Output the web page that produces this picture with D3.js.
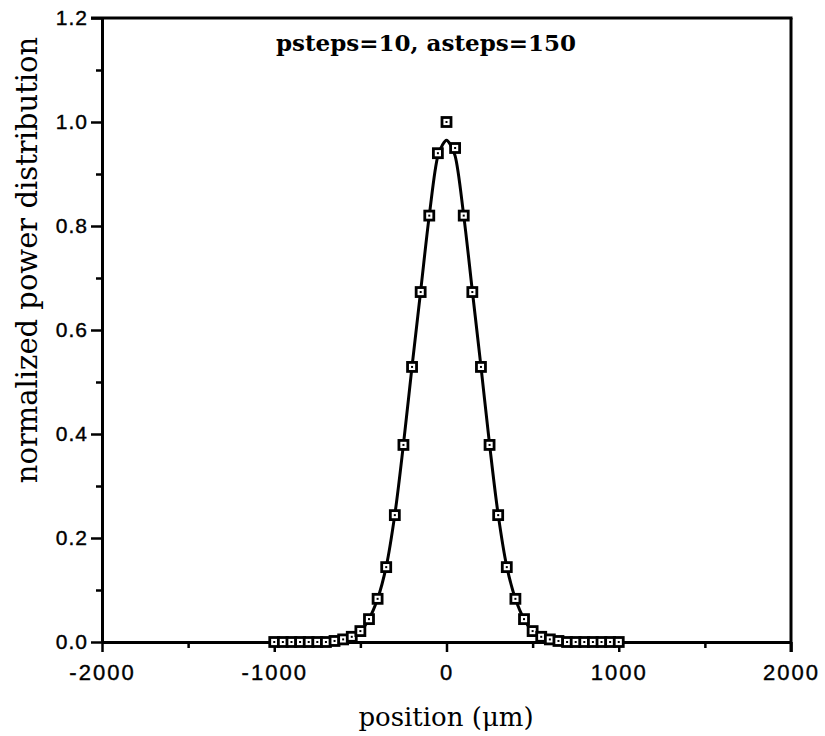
<!DOCTYPE html>
<html>
<head>
<meta charset="utf-8">
<script src="https://cdn.jsdelivr.net/npm/d3@7"></script>
<style>
  body { margin: 0; background: #fff; }
  svg { display: block; }
</style>
</head>
<body>
<div id="chart"></div>
<script>
// measured points (squares), every 50 um
var markerX = [-1000,-950,-900,-850,-800,-750,-700,-650,-600,-550,-500,-450,-400,-350,-300,-250,-200,-150,-100,-50,
               0,50,100,150,200,250,300,350,400,450,500,550,600,650,700,750,800,850,900,950,1000];
var markerY = [0,0,0,0,0,0,0,0.002,0.005,0.01,0.021,0.044,0.083,0.144,0.244,0.379,0.529,0.673,0.82,0.94,
               1.0,0.95,0.82,0.673,0.529,0.379,0.244,0.144,0.083,0.044,0.021,0.01,0.005,0.002,0,0,0,0,0,0,0];

// solid curve
var curveX = [-1000,-800,-700,-600,-550,-500,-450,-400,-350,-300,-250,-200,-150,-100,-50,-25,0,25,50,100,150,200,250,300,350,400,450,500,550,600,700,800,1000];
var curveY = [0,0,0,0.003,0.008,0.02,0.044,0.083,0.145,0.245,0.38,0.53,0.675,0.82,0.935,0.955,0.965,0.955,0.935,0.82,0.675,0.53,0.38,0.245,0.145,0.083,0.044,0.02,0.008,0.003,0,0,0];

var xMajor = [-2000,-1000,0,1000,2000];
var xMinor = [-1500,-500,500,1500];
var yMajor = [0,0.2,0.4,0.6,0.8,1.0,1.2];
var yMinor = [0.1,0.3,0.5,0.7,0.9,1.1];

var title = "psteps=10, asteps=150";
var xTitle = "position (\u03bcm)";
var yTitle = "normalized power distribution";

var width = 825, height = 736;
var plotL = 102, plotR = 791, plotT = 18, plotB = 642;

var svg = d3.select("#chart").append("svg")
    .attr("width", width)
    .attr("height", height);

var x = d3.scaleLinear().domain([-2000, 2000]).range([plotL, plotR]);
var y = d3.scaleLinear().domain([0, 1.2]).range([plotB, plotT]);

var tickFont = "'Liberation Sans', Arial, sans-serif";
var serif = "'DejaVu Serif', 'Century Schoolbook', serif";

// x axis
var xAxis = svg.append("g")
    .attr("transform", "translate(0," + plotB + ")")
    .call(d3.axisBottom(x).tickValues(xMajor).tickSize(10).tickSizeOuter(0));
xAxis.select(".domain").attr("stroke-width", 3);
xAxis.selectAll(".tick line").attr("stroke-width", 2.5);
xAxis.selectAll(".tick text")
    .attr("y", 22)
    .attr("dy", "0.71em")
    .style("font-family", tickFont)
    .style("font-size", "22px")
    .style("letter-spacing", "2px")
    .attr("fill", "#000")
    .attr("stroke", "#000")
    .attr("stroke-width", 0.4)
    .text(function(d) { return d3.format("d")(d).replace("\u2212", "-"); });

var xAxisMinor = svg.append("g")
    .attr("transform", "translate(0," + plotB + ")")
    .call(d3.axisBottom(x).tickValues(xMinor).tickSize(6).tickFormat(""));
xAxisMinor.select(".domain").remove();
xAxisMinor.selectAll(".tick line").attr("stroke-width", 2.5);

// y axis
var yAxis = svg.append("g")
    .attr("transform", "translate(" + plotL + ",0)")
    .call(d3.axisLeft(y).tickValues(yMajor).tickSize(11).tickSizeOuter(0).tickFormat(d3.format(".1f")));
yAxis.select(".domain").attr("stroke-width", 3);
yAxis.selectAll(".tick line").attr("stroke-width", 2.5);
yAxis.selectAll(".tick text")
    .attr("x", -14)
    .style("font-family", tickFont)
    .style("font-size", "21px")
    .style("letter-spacing", "1px")
    .attr("fill", "#000")
    .attr("stroke", "#000")
    .attr("stroke-width", 0.4);

var yAxisMinor = svg.append("g")
    .attr("transform", "translate(" + plotL + ",0)")
    .call(d3.axisLeft(y).tickValues(yMinor).tickSize(6).tickFormat(""));
yAxisMinor.select(".domain").remove();
yAxisMinor.selectAll(".tick line").attr("stroke-width", 2.5);

// frame top and right
svg.append("line")
    .attr("x1", x(-2000) - 11).attr("x2", x(2000) + 1.5)
    .attr("y1", y(1.2)).attr("y2", y(1.2))
    .attr("stroke", "#000").attr("stroke-width", 3);
svg.append("line")
    .attr("x1", x(2000)).attr("x2", x(2000))
    .attr("y1", y(1.2)).attr("y2", y(0) + 10)
    .attr("stroke", "#000").attr("stroke-width", 3);

// curve
var line = d3.line()
    .x(function(d) { return x(d[0]); })
    .y(function(d) { return y(d[1]); })
    .curve(d3.curveCatmullRom);

svg.append("path")
    .datum(d3.zip(curveX, curveY))
    .attr("d", line)
    .attr("fill", "none")
    .attr("stroke", "#000")
    .attr("stroke-width", 3);

// square markers
var pts = svg.selectAll(".pt")
    .data(d3.zip(markerX, markerY))
  .enter().append("g")
    .attr("class", "pt")
    .attr("transform", function(d) { return "translate(" + x(d[0]) + "," + y(d[1]) + ")"; });

pts.append("rect")
    .attr("x", -4.5).attr("y", -4.5)
    .attr("width", 9).attr("height", 9)
    .attr("fill", "#fff")
    .attr("stroke", "#000")
    .attr("stroke-width", 2.8);
pts.append("rect")
    .attr("x", -1).attr("y", -1)
    .attr("width", 2).attr("height", 2)
    .attr("fill", "#000");

// texts
svg.append("text")
    .attr("x", 426).attr("y", 51)
    .attr("text-anchor", "middle")
    .style("font-family", serif)
    .style("font-weight", "bold")
    .style("font-size", "23px")
    .attr("fill", "#000")
    .text(title);

svg.append("text")
    .attr("x", 446).attr("y", 726)
    .attr("text-anchor", "middle")
    .style("font-family", serif)
    .style("font-size", "26px")
    .attr("fill", "#000")
    .text(xTitle);

svg.append("text")
    .attr("transform", "translate(37,260) rotate(-90)")
    .attr("text-anchor", "middle")
    .style("font-family", serif)
    .style("font-size", "29px")
    .attr("fill", "#000")
    .text(yTitle);
</script>
</body>
</html>
